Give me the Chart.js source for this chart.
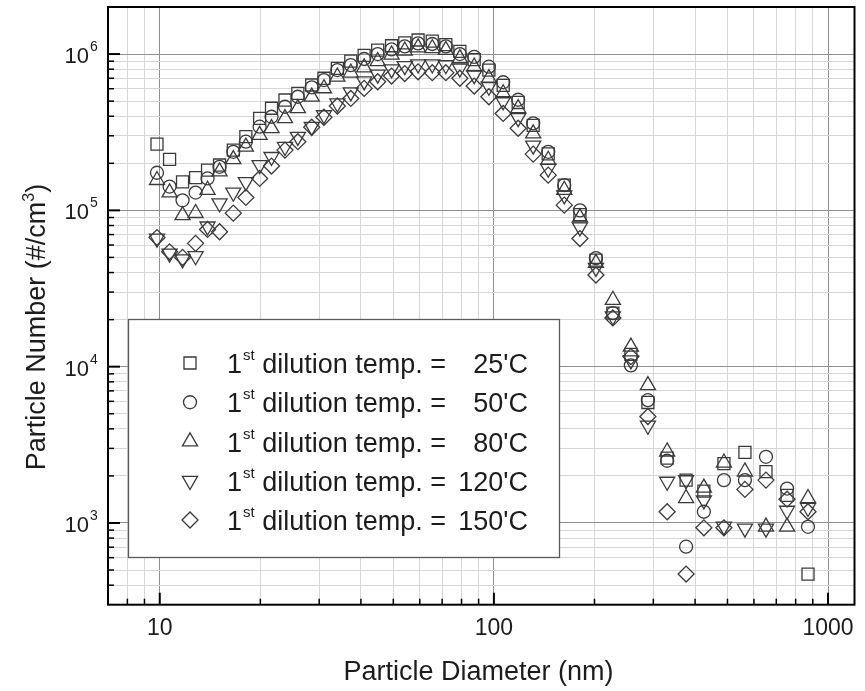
<!DOCTYPE html>
<html>
<head>
<meta charset="utf-8">
<script src="https://cdn.jsdelivr.net/npm/chart.js@4.4.0/dist/chart.umd.min.js"></script>
<style>
  html, body { margin: 0; padding: 0; background: #fff; }
  #wrap { width: 865px; height: 691px; }
</style>
</head>
<body>
<div id="wrap"><canvas id="psdChart" width="865" height="691"></canvas></div>
<script>
// particle diameter of each channel (nm)
const diameters = [9.81, 10.7, 11.7, 12.8, 13.9, 15.1, 16.6, 18.1, 19.9, 21.6, 23.7, 25.9, 28.5, 31.0, 34.0,
  37.3, 40.9, 44.9, 49.4, 54.1, 59.3, 65.4, 71.8, 79.1, 87.3, 96.6, 106.6, 118.2, 131.1, 145.4, 162.4, 180.9,
  202, 227, 257, 289, 330, 376, 425, 488, 564, 652, 754, 871];

// particle number (#/cm3) for each 1st dilution temperature
const temp25 = [2.65e5, 2.12e5, 1.52e5, 1.62e5, 1.81e5, 1.95e5, 2.43e5, 2.96e5, 3.88e5, 4.5e5, 5.08e5, 5.61e5, 6.34e5, 7.0e5, 8.1e5,
  9.0e5, 9.8e5, 1.06e6, 1.13e6, 1.18e6, 1.23e6, 1.21e6, 1.15e6, 1.04e6, 9.2e5, 7.9e5, 6.3e5, 4.9e5, 3.5e5, 2.3e5, 1.45e5, 9.4e4,
  4.8e4, 2.2e4, 1.2e4, 5.9e3, 2.6e3, 1.88e3, 1.6e3, 2.4e3, 2.83e3, 2.13e3, 1.5e3, 471];
const temp50 = [1.74e5, 1.42e5, 1.16e5, 1.30e5, 1.6e5, 1.9e5, 2.37e5, 2.75e5, 3.43e5, 3.97e5, 4.6e5, 5.33e5, 6.12e5, 6.82e5, 7.9e5,
  8.5e5, 9.3e5, 1.0e6, 1.07e6, 1.12e6, 1.17e6, 1.16e6, 1.12e6, 1.0e6, 9.6e5, 8.3e5, 6.6e5, 5.1e5, 3.6e5, 2.37e5, 1.45e5, 1.0e5,
  4.95e4, 2.2e4, 1.02e4, 6.1e3, 2.5e3, 705, 1.18e3, 1.88e3, 1.88e3, 2.65e3, 1.66e3, 945];
const temp80 = [1.56e5, 1.30e5, 9.3e4, 9.6e4, 1.35e5, 1.77e5, 2.12e5, 2.55e5, 3.03e5, 3.35e5, 3.88e5, 4.5e5, 5.33e5, 6.03e5, 7.16e5,
  7.6e5, 8.2e5, 9.0e5, 9.9e5, 1.05e6, 1.1e6, 1.09e6, 1.06e6, 9.4e5, 8.3e5, 7.0e5, 5.6e5, 4.5e5, 3.1e5, 2.1e5, 1.35e5, 9.0e4,
  4.6e4, 2.67e4, 1.34e4, 7.6e3, 2.86e3, 1.44e3, 1.68e3, 2.43e3, 2.13e3, 945, 945, 1.44e3];
const temp120 = [6.6e4, 5.3e4, 4.87e4, 5.1e4, 7.9e4, 1.11e5, 1.30e5, 1.52e5, 1.95e5, 2.2e5, 2.55e5, 2.96e5, 3.43e5, 4.07e5, 4.84e5,
  5.7e5, 6.7e5, 7.4e5, 8.0e5, 8.4e5, 8.6e5, 8.6e5, 8.5e5, 8.1e5, 7.35e5, 6.2e5, 5.0e5, 3.9e5, 2.6e5, 1.85e5, 1.25e5, 7.8e4,
  4.3e4, 2.1e4, 1.1e4, 4.2e3, 1.84e3, 1.88e3, 1.4e3, 950, 923, 923, 1.2e3, 1.25e3];
const temp150 = [6.7e4, 5.43e4, 5.0e4, 6.15e4, 7.55e4, 7.3e4, 9.6e4, 1.21e5, 1.6e5, 1.92e5, 2.43e5, 2.75e5, 3.4e5, 3.94e5, 4.65e5,
  5.2e5, 6.03e5, 6.65e5, 7.23e5, 7.5e5, 7.7e5, 7.6e5, 7.6e5, 7.0e5, 6.24e5, 5.33e5, 4.17e5, 3.35e5, 2.29e5, 1.68e5, 1.08e5, 6.6e4,
  3.86e4, 2.05e4, 1.16e4, 4.8e3, 1.18e3, 471, 931, 931, 1.64e3, 1.88e3, 1.42e3, 1.18e3];

const seriesTemps = [25, 50, 80, 120, 150];
const xTickLabels = ['10', '100', '1000'];
const yTickExponents = [3, 4, 5, 6];
const xMin = 7, xMax = 1200, yMin = 300, yMax = 2e6;

const FONT = "'Liberation Sans', Arial, Helvetica, sans-serif";
const INK = '#1c1c1c';
const MARK = '#3a3a3a';
const majorGrid = '#8f8f8f';
const minorGrid = '#d6d6d6';

const markers = [
  { pointStyle: 'rect', radius: 8.5, rotation: 0 },
  { pointStyle: 'circle', radius: 6.5, rotation: 0 },
  { pointStyle: 'triangle', radius: 8.7, rotation: 0 },
  { pointStyle: 'triangle', radius: 8.7, rotation: 180 },
  { pointStyle: 'rectRot', radius: 8, rotation: 0 }
];

function isDecade(v) {
  const l = Math.log10(v);
  return Math.abs(l - Math.round(l)) < 1e-9;
}

// 1..9 x 10^n positions strictly inside the axis range
function logSteps(min, max) {
  const out = [];
  for (let e = Math.floor(Math.log10(min)); e <= Math.ceil(Math.log10(max)); e++) {
    for (let m = 1; m <= 9; m++) {
      const v = m * Math.pow(10, e);
      if (v > min * 1.0001 && v < max * 0.9999) out.push(v);
    }
  }
  return out;
}

const allSeries = [temp25, temp50, temp80, temp120, temp150];

const datasets = allSeries.map((vals, i) => ({
  label: seriesTemps[i] + "'C",
  data: vals.map((v, j) => ({ x: diameters[j], y: v })),
  showLine: false,
  pointStyle: markers[i].pointStyle,
  pointRadius: markers[i].radius,
  pointRotation: markers[i].rotation,
  pointBorderColor: MARK,
  pointBackgroundColor: 'rgba(0,0,0,0)',
  pointBorderWidth: 1.3
}));

function gridColor(c) {
  return c.tick && isDecade(c.tick.value) ? majorGrid : minorGrid;
}

const frameAndText = {
  id: 'frameAndText',
  afterDraw(chart) {
    const ctx = chart.ctx;
    const a = chart.chartArea;
    const xs = chart.scales.x, ys = chart.scales.y;
    ctx.save();

    // legend box
    const lx = 128.5, ly = 319.5, lw = 431, lh = 238;
    ctx.fillStyle = '#fff';
    ctx.fillRect(lx, ly, lw, lh);
    ctx.strokeStyle = '#5a5a5a';
    ctx.lineWidth = 1.3;
    ctx.strokeRect(lx, ly, lw, lh);

    seriesTemps.forEach((t, i) => {
      const rowY = 363 + i * 39.25;
      ctx.strokeStyle = MARK;
      ctx.fillStyle = 'rgba(0,0,0,0)';
      ctx.lineWidth = 1.3;
      Chart.helpers.drawPoint(ctx, {
        pointStyle: markers[i].pointStyle,
        radius: markers[i].radius,
        rotation: markers[i].rotation,
        borderWidth: 1.3
      }, 190, rowY);

      ctx.fillStyle = INK;
      ctx.textAlign = 'left';
      ctx.textBaseline = 'alphabetic';
      ctx.font = '27px ' + FONT;
      let tx = 227;
      ctx.fillText('1', tx, rowY + 10);
      tx += ctx.measureText('1').width + 1;
      ctx.font = '15px ' + FONT;
      ctx.fillText('st', tx, rowY - 3);
      tx += ctx.measureText('st').width;
      ctx.font = '27px ' + FONT;
      ctx.fillText(' dilution temp. =', tx, rowY + 10);
      ctx.textAlign = 'right';
      ctx.fillText(t + "'C", 528, rowY + 10);
    });

    // plot frame
    ctx.strokeStyle = '#000';
    ctx.lineWidth = 2;
    ctx.strokeRect(a.left, a.top, a.right - a.left, a.bottom - a.top);

    // inward ticks on left and bottom axes
    logSteps(yMin, yMax).forEach(v => {
      const y = ys.getPixelForValue(v);
      const len = isDecade(v) ? 12 : 6;
      ctx.lineWidth = isDecade(v) ? 2 : 1.5;
      ctx.beginPath();
      ctx.moveTo(a.left, y);
      ctx.lineTo(a.left + len, y);
      ctx.stroke();
    });
    logSteps(xMin, xMax).forEach(v => {
      const x = xs.getPixelForValue(v);
      const len = isDecade(v) ? 12 : 6;
      ctx.lineWidth = isDecade(v) ? 2 : 1.5;
      ctx.beginPath();
      ctx.moveTo(x, a.bottom);
      ctx.lineTo(x, a.bottom - len);
      ctx.stroke();
    });

    // tick labels
    ctx.fillStyle = INK;
    ctx.textBaseline = 'alphabetic';
    ctx.font = '23px ' + FONT;
    ctx.textAlign = 'center';
    xTickLabels.forEach(lbl => {
      ctx.fillText(lbl, xs.getPixelForValue(Number(lbl)), 635);
    });
    yTickExponents.forEach(e => {
      const y = ys.getPixelForValue(Math.pow(10, e));
      ctx.textAlign = 'right';
      ctx.font = '22px ' + FONT;
      ctx.fillText('10', 89, y + 9);
      ctx.textAlign = 'left';
      ctx.font = '14px ' + FONT;
      ctx.fillText(String(e), 90, y - 3);
    });

    // axis titles
    ctx.font = '27px ' + FONT;
    ctx.textAlign = 'center';
    ctx.fillText('Particle Diameter (nm)', 478.5, 680);

    ctx.translate(45, 327);
    ctx.rotate(-Math.PI / 2);
    ctx.textAlign = 'left';
    const p1 = 'Particle Number (#/cm', p3 = ')';
    ctx.font = '27px ' + FONT;
    const w1 = ctx.measureText(p1).width, w3 = ctx.measureText(p3).width;
    ctx.font = '16px ' + FONT;
    const w2 = ctx.measureText('3').width;
    let sx = -(w1 + w2 + w3) / 2;
    ctx.font = '27px ' + FONT;
    ctx.fillText(p1, sx, 0);
    sx += w1;
    ctx.font = '16px ' + FONT;
    ctx.fillText('3', sx, -11);
    sx += w2;
    ctx.font = '27px ' + FONT;
    ctx.fillText(p3, sx, 0);

    ctx.restore();
  }
};

new Chart(document.getElementById('psdChart'), {
  type: 'scatter',
  data: { datasets },
  options: {
    responsive: false,
    animation: false,
    events: [],
    layout: { autoPadding: false, padding: { left: 108, right: 10.5, top: 7, bottom: 86.3 } },
    plugins: { legend: { display: false }, tooltip: { enabled: false } },
    scales: {
      x: {
        type: 'logarithmic', min: xMin, max: xMax,
        afterBuildTicks: s => { s.ticks = logSteps(xMin, xMax).map(v => ({ value: v, major: isDecade(v) })); },
        afterFit: s => { s.height = 0; },
        ticks: { display: false },
        border: { display: false },
        grid: { drawTicks: false, lineWidth: 1, color: gridColor }
      },
      y: {
        type: 'logarithmic', min: yMin, max: yMax,
        afterBuildTicks: s => { s.ticks = logSteps(yMin, yMax).map(v => ({ value: v, major: isDecade(v) })); },
        afterFit: s => { s.width = 0; },
        ticks: { display: false },
        border: { display: false },
        grid: { drawTicks: false, lineWidth: 1, color: gridColor }
      }
    }
  },
  plugins: [frameAndText]
});
</script>
</body>
</html>
